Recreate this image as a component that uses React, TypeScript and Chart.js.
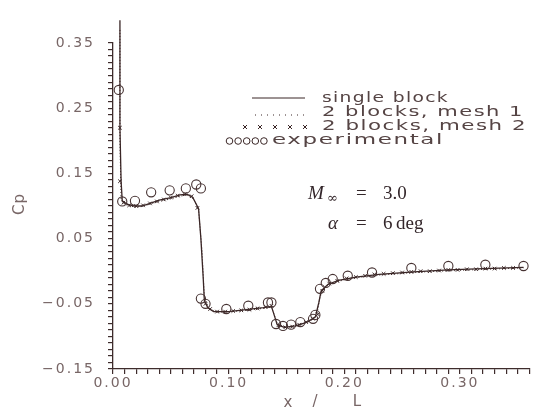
import React, { useEffect, useRef } from 'react';
import { Chart, registerables } from 'chart.js';

Chart.register(...registerables);

// ---- data (x / L, Cp) ----
const singleX = [0.006, 0.006, 0.007, 0.008, 0.012, 0.018, 0.025, 0.032, 0.040, 0.050, 0.058, 0.064, 0.069, 0.074, 0.076, 0.078, 0.079, 0.082, 0.087, 0.100, 0.115, 0.130, 0.137, 0.139, 0.142, 0.148, 0.158, 0.168, 0.175, 0.178, 0.180, 0.186, 0.195, 0.210, 0.230, 0.260, 0.290, 0.320, 0.355];
const singleY = [0.385, 0.220, 0.138, 0.108, 0.103, 0.100, 0.100, 0.104, 0.109, 0.113, 0.117, 0.118, 0.113, 0.096, 0.050, -0.010, -0.045, -0.056, -0.062, -0.062, -0.059, -0.056, -0.054, -0.065, -0.082, -0.086, -0.084, -0.078, -0.070, -0.048, -0.030, -0.020, -0.014, -0.009, -0.005, -0.001, 0.002, 0.004, 0.006];

const mesh1X = [0.006, 0.006, 0.007, 0.012, 0.020, 0.030, 0.040, 0.050, 0.058, 0.064, 0.070, 0.074, 0.077, 0.079, 0.083, 0.090, 0.110, 0.130, 0.137, 0.142, 0.150, 0.165, 0.176, 0.179, 0.182, 0.190, 0.205, 0.230, 0.270, 0.310, 0.355];
const mesh1Y = [0.370, 0.200, 0.110, 0.101, 0.098, 0.102, 0.107, 0.111, 0.115, 0.117, 0.110, 0.094, 0.030, -0.040, -0.057, -0.063, -0.061, -0.057, -0.055, -0.080, -0.087, -0.080, -0.070, -0.040, -0.026, -0.018, -0.011, -0.006, -0.001, 0.002, 0.005];

const mesh2X = [0.006, 0.006, 0.009, 0.014, 0.020, 0.026, 0.032, 0.038, 0.044, 0.050, 0.056, 0.062, 0.068, 0.073, 0.080, 0.084, 0.090, 0.097, 0.104, 0.111, 0.118, 0.125, 0.132, 0.137, 0.143, 0.149, 0.155, 0.161, 0.167, 0.173, 0.177, 0.181, 0.187, 0.194, 0.202, 0.210, 0.218, 0.226, 0.234, 0.242, 0.250, 0.258, 0.266, 0.274, 0.282, 0.290, 0.298, 0.306, 0.314, 0.322, 0.330, 0.338, 0.346];
const mesh2Y = [0.220, 0.138, 0.105, 0.101, 0.100, 0.101, 0.104, 0.107, 0.110, 0.113, 0.116, 0.118, 0.115, 0.097, -0.050, -0.058, -0.062, -0.062, -0.061, -0.060, -0.059, -0.057, -0.055, -0.053, -0.083, -0.086, -0.085, -0.082, -0.078, -0.073, -0.066, -0.030, -0.019, -0.015, -0.011, -0.009, -0.007, -0.005, -0.004, -0.003, -0.002, -0.001, 0.000, 0.000, 0.001, 0.002, 0.002, 0.003, 0.003, 0.004, 0.004, 0.005, 0.005];

const expX = [0.005, 0.008, 0.019, 0.033, 0.049, 0.063, 0.072, 0.076, 0.076, 0.080, 0.098, 0.117, 0.134, 0.137, 0.141, 0.147, 0.154, 0.162, 0.173, 0.175, 0.179, 0.184, 0.190, 0.203, 0.224, 0.258, 0.290, 0.322, 0.355];
const expY = [0.278, 0.107, 0.108, 0.121, 0.124, 0.127, 0.133, 0.127, -0.042, -0.050, -0.058, -0.053, -0.048, -0.048, -0.081, -0.084, -0.082, -0.078, -0.073, -0.067, -0.027, -0.018, -0.012, -0.007, -0.002, 0.005, 0.008, 0.010, 0.008];

const yMajorValues = [0.35, 0.25, 0.15, 0.05, -0.05, -0.15];
const yMajorLabels = ['0.35', '0.25', '0.15', '0.05', '\u22120.05', '\u22120.15'];
const xMajorValues = [0.0, 0.1, 0.2, 0.3];
const xMajorLabels = ['0.00', '0.10', '0.20', '0.30'];

const legendLabels = ['single block', '2 blocks, mesh 1', '2 blocks, mesh 2', 'experimental'];
const machLabel = ['M', '\u221e', '=', '3.0'];
const alphaLabel = ['\u03b1', '=', '6', 'deg'];
const yTitle = 'Cp';
const xTitle = ['x', '/', 'L'];

const INK = '#3a2626';
const AXIS = '#3e2c2c';
const TEXT = '#786666';
const LEG = '#554444';

const toPts = (xs: number[], ys: number[]) => xs.map((x, i) => ({ x, y: ys[i] }));

// draw text stretched horizontally to a given width (the reference uses an extended typeface)
function fitText(ctx: any, text: string, x: number, y: number, width: number) {
  const w = ctx.measureText(text).width;
  ctx.save();
  ctx.translate(x, y);
  ctx.scale(width / w, 1);
  ctx.fillText(text, 0, 0);
  ctx.restore();
}

const overlay = {
  id: 'overlay',
  beforeDraw(chart: any) {
    (chart.ctx as any).letterSpacing = '2px';
  },
  afterDraw(chart: any) {
    const ctx = chart.ctx;
    ctx.save();
    (ctx as any).letterSpacing = '0px';
    // legend samples
    ctx.strokeStyle = INK;
    ctx.lineWidth = 1;
    ctx.beginPath();
    ctx.moveTo(252, 98);
    ctx.lineTo(305, 98);
    ctx.stroke();
    ctx.setLineDash([1, 5]);
    ctx.beginPath();
    ctx.moveTo(255, 115);
    ctx.lineTo(304, 115);
    ctx.stroke();
    ctx.setLineDash([]);
    for (let i = 0; i < 5; i++) {
      const cx = 245 + i * 15;
      const cy = 127;
      ctx.beginPath();
      ctx.moveTo(cx - 2, cy - 2);
      ctx.lineTo(cx + 2, cy + 2);
      ctx.moveTo(cx + 2, cy - 2);
      ctx.lineTo(cx - 2, cy + 2);
      ctx.stroke();
    }
    for (let i = 0; i < 5; i++) {
      ctx.beginPath();
      ctx.arc(229.5 + i * 8.6, 141, 3.3, 0, Math.PI * 2);
      ctx.stroke();
    }
    // legend text
    ctx.fillStyle = LEG;
    ctx.font = '14px "DejaVu Sans"';
    ctx.textBaseline = 'middle';
    ctx.textAlign = 'left';
    (ctx as any).letterSpacing = '1px';
    fitText(ctx, legendLabels[0], 322, 98, 127);
    fitText(ctx, legendLabels[1], 322, 112, 202);
    fitText(ctx, legendLabels[2], 322, 126, 205);
    fitText(ctx, legendLabels[3], 272, 140, 172);
    (ctx as any).letterSpacing = '0px';

    // Mach / alpha annotation
    ctx.fillStyle = '#33262a';
    ctx.textBaseline = 'alphabetic';
    ctx.font = 'italic 19px "Liberation Serif"';
    ctx.fillText(machLabel[0], 308, 199);
    ctx.font = '13px "DejaVu Serif"';
    ctx.fillText(machLabel[1], 327, 202);
    ctx.font = '19px "Liberation Serif"';
    ctx.fillText(machLabel[2], 356, 199);
    ctx.fillText(machLabel[3], 383, 199);
    ctx.font = 'italic 19px "Liberation Serif"';
    ctx.fillText(alphaLabel[0], 328, 229);
    ctx.font = '19px "Liberation Serif"';
    ctx.fillText(alphaLabel[1], 356, 229);
    ctx.fillText(alphaLabel[2], 383, 229);
    ctx.fillText(alphaLabel[3], 396, 229);

    // axis titles
    ctx.fillStyle = TEXT;
    ctx.font = '15px "DejaVu Sans"';
    ctx.textAlign = 'center';
    ctx.textBaseline = 'middle';
    ctx.save();
    ctx.translate(20, 204);
    ctx.rotate(-Math.PI / 2);
    (ctx as any).letterSpacing = '1px';
    ctx.fillText(yTitle, 0, 0);
    ctx.restore();
    ctx.fillText(xTitle[0], 288, 403);
    ctx.fillText(xTitle[1], 315, 402);
    ctx.fillText(xTitle[2], 357, 402);
    ctx.restore();
  },
};

function labelFor(value: number, vals: number[], labels: string[]) {
  for (let i = 0; i < vals.length; i++) {
    if (Math.abs(vals[i] - value) < 1e-6) return labels[i];
  }
  return '';
}

export default function App() {
  const ref = useRef<HTMLCanvasElement | null>(null);
  useEffect(() => {
    if (!ref.current) return;
    const chart = new Chart(ref.current, {
      type: 'scatter',
      data: {
        datasets: [
          {
            label: legendLabels[3],
            data: toPts(expX, expY),
            showLine: false,
            pointStyle: 'circle',
            pointRadius: 4.6,
            pointBorderWidth: 1.1,
            pointBorderColor: '#463232',
            pointBackgroundColor: 'rgba(0,0,0,0)',
            clip: false,
          } as any,
          {
            label: legendLabels[2],
            data: toPts(mesh2X, mesh2Y),
            showLine: false,
            pointStyle: 'crossRot',
            pointRadius: 2.5,
            pointBorderWidth: 1,
            pointBorderColor: INK,
            clip: false,
          } as any,
          {
            label: legendLabels[1],
            data: toPts(mesh1X, mesh1Y),
            showLine: true,
            pointRadius: 0,
            borderColor: INK,
            borderWidth: 1,
            borderDash: [1, 2],
            clip: false,
          } as any,
          {
            label: legendLabels[0],
            data: toPts(singleX, singleY),
            showLine: true,
            pointRadius: 0,
            borderColor: INK,
            borderWidth: 1.3,
            clip: false,
          } as any,
        ],
      },
      options: {
        animation: false,
        responsive: false,
        events: [],
        layout: { padding: { top: 43, right: 1, left: 0, bottom: 0 } },
        plugins: { legend: { display: false }, tooltip: { enabled: false } },
        scales: {
          x: {
            type: 'linear',
            min: 0,
            max: 0.36,
            afterBuildTicks: (s: any) => {
              const t = [];
              for (let i = 0; i <= 36; i++) t.push({ value: i / 100 });
              s.ticks = t;
            },
            afterFit: (s: any) => { s.height = 41; },
            grid: { drawOnChartArea: false, drawTicks: true, tickLength: 5, color: AXIS, lineWidth: 1.2 },
            border: { display: true, color: AXIS, width: 1.3 },
            ticks: {
              autoSkip: false,
              maxRotation: 0,
              padding: 1,
              color: TEXT,
              font: { family: '"DejaVu Sans"', size: 14 },
              callback: (v: any) => labelFor(Number(v), xMajorValues, xMajorLabels),
            },
          },
          y: {
            type: 'linear',
            min: -0.15,
            max: 0.35,
            afterBuildTicks: (s: any) => {
              const t = [];
              for (let i = -15; i <= 35; i++) t.push({ value: i / 100 });
              s.ticks = t;
            },
            afterFit: (s: any) => { s.width = 113; },
            grid: { drawOnChartArea: false, drawTicks: true, tickLength: 5, color: AXIS, lineWidth: 1.2 },
            border: { display: true, color: AXIS, width: 1.3 },
            ticks: {
              autoSkip: false,
              padding: 13,
              color: TEXT,
              font: { family: '"DejaVu Sans"', size: 14 },
              callback: (v: any) => labelFor(Number(v), yMajorValues, yMajorLabels),
            },
          },
        },
      },
      plugins: [overlay],
    } as any);
    return () => chart.destroy();
  }, []);
  return (
    <div style={{ position: 'fixed', left: 0, top: 0, width: 535, height: 410, background: '#ffffff' }}>
      <canvas ref={ref} width={535} height={410} style={{ display: 'block' }} />
    </div>
  );
}
